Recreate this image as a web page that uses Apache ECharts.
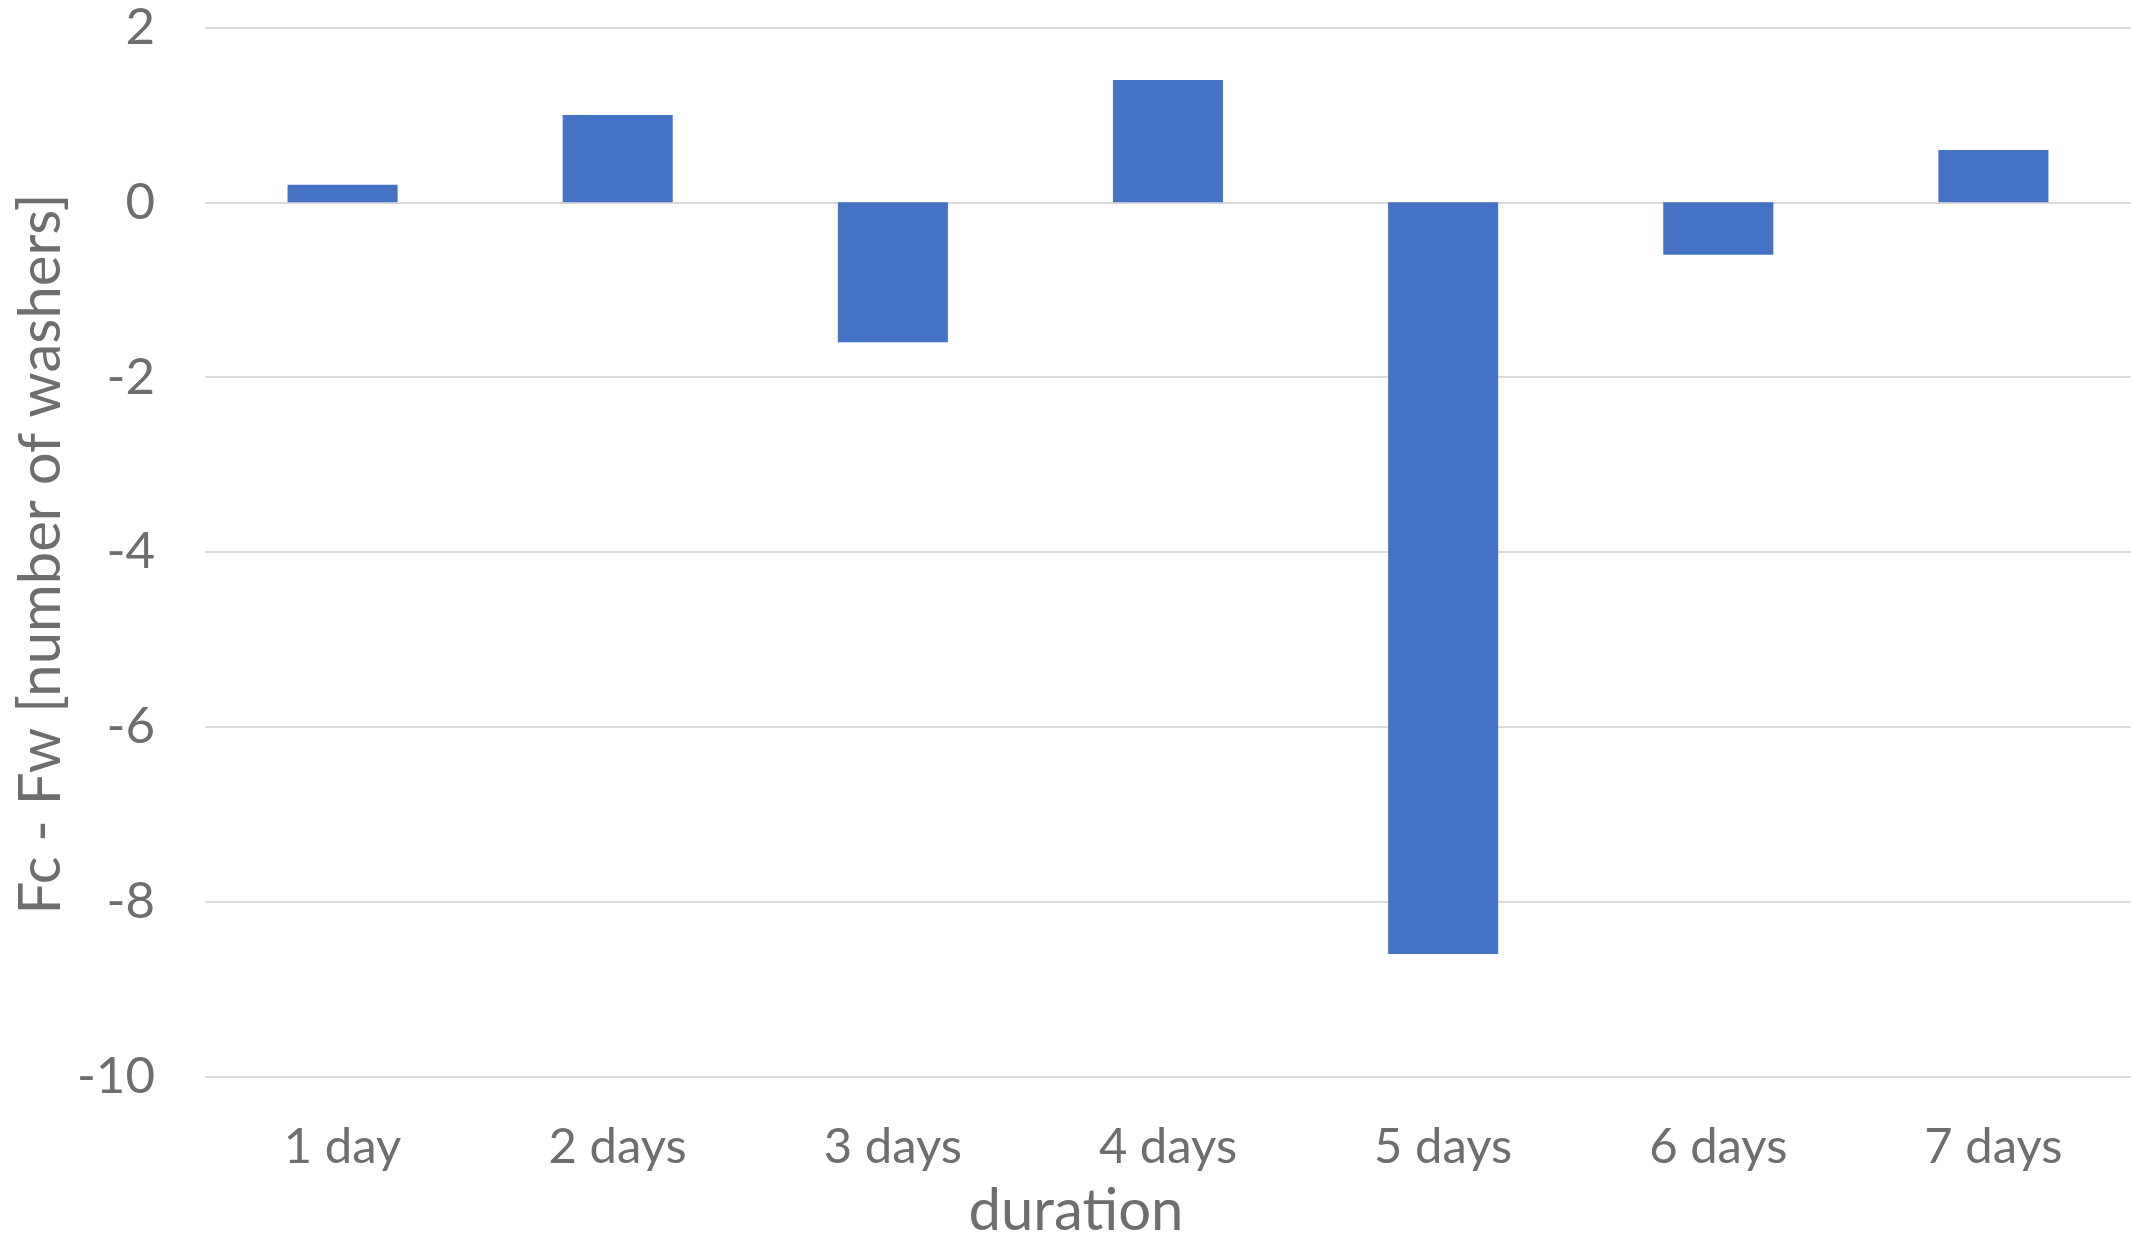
<!DOCTYPE html>
<html>
<head>
<meta charset="utf-8">
<script src="https://cdn.jsdelivr.net/npm/echarts@6/dist/echarts.min.js"></script>
<style>
  html, body { margin: 0; padding: 0; background: #ffffff; }
  #chart { width: 2139px; height: 1234px; }
</style>
</head>
<body>
<div id="chart"></div>
<script>
// Difference Fc - Fw per test duration
const categories = ['1 day', '2 days', '3 days', '4 days', '5 days', '6 days', '7 days'];
const diffValues = [0.2, 1.0, -1.6, 1.4, -8.6, -0.6, 0.6];
const yTicks = { min: -10, max: 2, interval: 2 };

const FONT = 'Lato, "Open Sans", sans-serif';
const TEXT = '#6e6e6e';

const chart = echarts.init(document.getElementById('chart'), null, { renderer: 'canvas' });

chart.setOption({
  animation: false,
  backgroundColor: '#ffffff',
  grid: { left: 205, right: 8, top: 27.5, bottom: 157.5, containLabel: false },
  xAxis: {
    type: 'category',
    data: categories,
    position: 'bottom',
    axisLine: { show: false, onZero: false },
    axisTick: { show: false },
    axisLabel: {
      color: TEXT, fontFamily: FONT, fontSize: 49, margin: 46
    }
  },
  yAxis: {
    type: 'value',
    min: yTicks.min, max: yTicks.max, interval: yTicks.interval,
    axisLine: { show: false },
    axisTick: { show: false },
    splitLine: { lineStyle: { color: '#dcdcdc', width: 2 } },
    axisLabel: { color: TEXT, fontFamily: FONT, fontSize: 51, margin: 50 }
  },
  series: [{
    type: 'bar',
    data: diffValues,
    barWidth: '40%',
    itemStyle: { color: '#4472c4' }
  }],
  graphic: [
    {
      type: 'text',
      x: 1076, y: 1182,
      style: { text: 'duration', fill: TEXT, font: '58px ' + FONT, textAlign: 'center' }
    },
    {
      type: 'text',
      rotation: Math.PI / 2,
      x: 41, y: 554,
      style: {
        text: 'Fc - Fw [number of washers]', fill: TEXT, font: '58px ' + FONT,
        textAlign: 'center', textVerticalAlign: 'middle'
      }
    }
  ]
});
</script>
</body>
</html>
